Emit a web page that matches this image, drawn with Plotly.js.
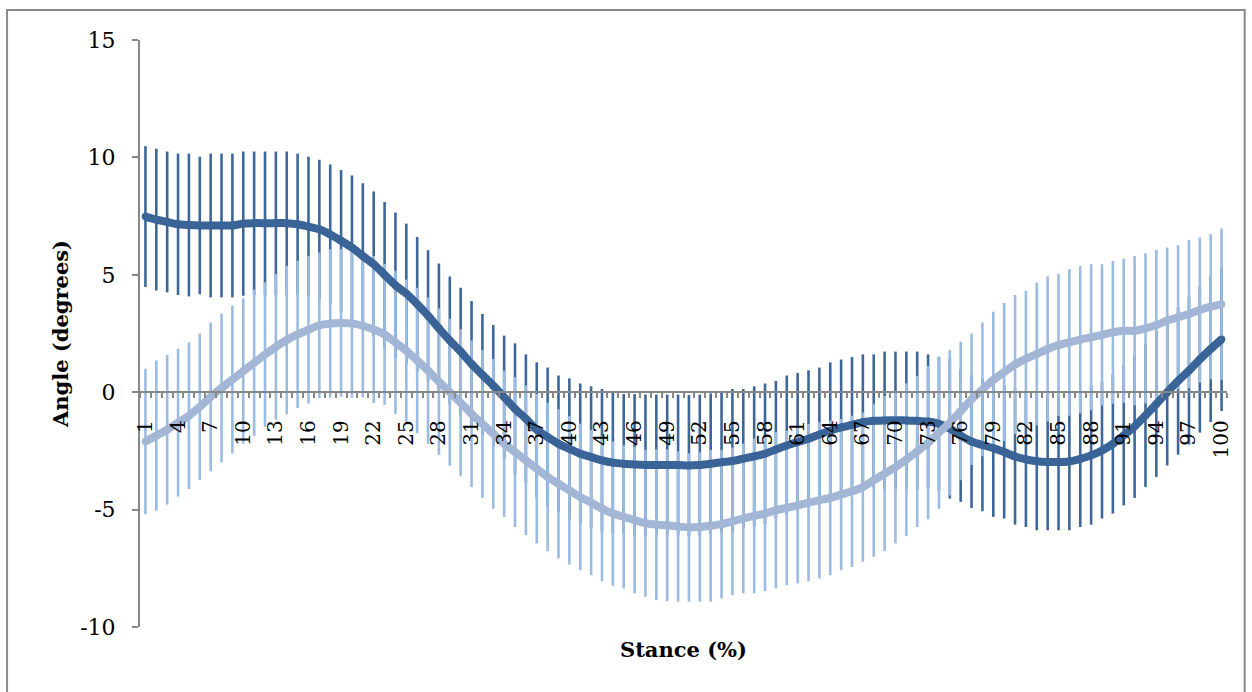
<!DOCTYPE html>
<html>
<head>
<meta charset="utf-8">
<script src="https://cdn.plot.ly/plotly-3.0.1.min.js"></script>
<style>html,body{margin:0;padding:0;background:#fff;}#chart{width:1252px;height:692px;}</style>
</head>
<body>
<div id="chart"></div>
<script>
// Stance percentage categories 1..100
var stance = [];
for (var i = 1; i <= 100; i++) stance.push(i);

var tickValues = [1,4,7,10,13,16,19,22,25,28,31,34,37,40,43,46,49,52,55,58,61,64,67,70,73,76,79,82,85,88,91,94,97,100];
var tickLabels = ["1","4","7","10","13","16","19","22","25","28","31","34","37","40","43","46","49","52","55","58","61","64","67","70","73","76","79","82","85","88","91","94","97","100"];
var yTickValues = [-10,-5,0,5,10,15];
var yTickLabels = ["-10","-5","0","5","10","15"];

// Dark series: mean angle and SD
var darkMean = [7.48,7.35,7.25,7.15,7.12,7.10,7.10,7.10,7.10,7.18,
 7.20,7.20,7.20,7.20,7.15,7.05,6.94,6.72,6.45,6.16,
 5.80,5.45,5.00,4.55,4.20,3.75,3.26,2.72,2.20,1.73,
 1.20,0.74,0.28,-0.21,-0.71,-1.13,-1.60,-1.91,-2.20,-2.41,
 -2.62,-2.76,-2.90,-3.00,-3.05,-3.08,-3.10,-3.10,-3.10,-3.10,
 -3.12,-3.10,-3.05,-2.98,-2.93,-2.83,-2.73,-2.62,-2.44,-2.27,
 -2.12,-1.98,-1.80,-1.64,-1.50,-1.39,-1.28,-1.22,-1.20,-1.20,
 -1.20,-1.22,-1.25,-1.35,-1.55,-1.85,-2.10,-2.25,-2.38,-2.55,
 -2.74,-2.86,-2.94,-2.97,-2.97,-2.95,-2.84,-2.69,-2.48,-2.20,
 -1.84,-1.46,-0.99,-0.50,0.00,0.48,0.92,1.40,1.84,2.25];
var darkSD = [3.00,3.02,3.00,3.01,3.04,2.93,3.06,3.06,3.06,3.07,
 3.05,3.05,3.05,3.05,3.01,2.98,2.96,2.98,3.01,3.07,
 3.10,3.10,3.10,3.10,2.98,2.86,2.79,2.76,2.73,2.72,
 2.68,2.59,2.58,2.62,2.79,2.74,2.87,2.96,2.91,3.00,
 2.99,3.01,3.04,3.00,2.97,3.00,3.00,3.00,3.00,3.00,
 3.00,3.00,3.00,3.00,3.07,2.97,2.98,2.99,2.92,2.98,
 2.94,2.91,2.85,2.91,2.89,2.89,2.89,2.83,2.93,2.93,
 2.93,2.95,2.86,2.85,2.98,2.82,2.83,2.82,2.93,2.83,
 2.90,2.88,2.94,2.91,2.91,2.93,2.90,2.95,2.90,2.97,
 2.98,3.04,3.05,3.11,3.12,3.14,3.15,3.12,3.11,3.05];

// Light series: mean angle and SD
var lightMean = [-2.10,-1.85,-1.60,-1.30,-1.00,-0.62,-0.20,0.18,0.54,0.90,
 1.25,1.60,1.93,2.22,2.46,2.66,2.85,2.93,2.95,2.93,
 2.83,2.67,2.46,2.12,1.77,1.35,0.92,0.45,0.00,-0.45,
 -0.92,-1.35,-1.77,-2.20,-2.55,-2.90,-3.26,-3.61,-3.90,-4.18,
 -4.46,-4.70,-4.96,-5.17,-5.31,-5.45,-5.58,-5.64,-5.67,-5.72,
 -5.76,-5.74,-5.69,-5.62,-5.50,-5.38,-5.27,-5.17,-5.03,-4.93,
 -4.82,-4.70,-4.60,-4.50,-4.36,-4.22,-4.04,-3.75,-3.47,-3.19,
 -2.87,-2.52,-2.15,-1.72,-1.30,-0.80,-0.30,0.12,0.52,0.86,
 1.18,1.42,1.63,1.84,2.01,2.12,2.24,2.34,2.44,2.55,
 2.62,2.62,2.72,2.86,3.05,3.19,3.33,3.50,3.64,3.75];
var lightSD = [3.10,3.20,3.19,3.15,3.12,3.12,3.17,3.17,3.15,3.10,
 3.12,3.08,3.10,3.16,3.14,3.14,3.10,3.16,3.14,3.16,
 3.05,3.13,3.00,3.05,3.03,3.10,3.12,3.12,3.13,3.13,
 3.12,3.15,3.19,3.11,3.19,3.19,3.18,3.16,3.18,3.16,
 3.12,3.09,3.09,3.07,3.05,3.12,3.13,3.21,3.23,3.20,
 3.16,3.18,3.23,3.16,3.14,3.19,3.30,3.30,3.33,3.29,
 3.32,3.35,3.33,3.29,3.22,3.22,3.18,3.26,3.30,3.25,
 3.25,3.22,3.26,3.24,3.10,2.95,2.80,2.85,2.91,2.94,
 2.96,2.90,3.04,3.09,3.02,3.12,3.14,3.11,3.01,3.04,
 3.07,3.18,3.20,3.20,3.11,3.07,3.16,3.09,3.09,3.22];

var DARK = '#3a6497', DARK_ERR = '#3d6799';
var LIGHT = '#a3b6d6', LIGHT_ERR = '#9bbce2';
var AXIS = '#878787';
var SERIF = 'DejaVu Serif, Liberation Serif, serif';

var traces = [
  { type:'scatter', mode:'lines', x:stance, y:darkMean, xaxis:'x', yaxis:'y',
    line:{width:0, color:'rgba(0,0,0,0)'}, showlegend:false, hoverinfo:'skip',
    error_y:{type:'data', array:darkSD, visible:true, color:DARK_ERR, thickness:2.6, width:0} },
  { type:'scatter', mode:'lines', x:stance, y:lightMean, xaxis:'x', yaxis:'y',
    line:{width:0, color:'rgba(0,0,0,0)'}, showlegend:false, hoverinfo:'skip',
    error_y:{type:'data', array:lightSD, visible:true, color:LIGHT_ERR, thickness:2.6, width:0} },
  { type:'scatter', mode:'lines+markers', x:stance, y:darkMean, xaxis:'x', yaxis:'y',
    line:{width:8, color:DARK, shape:'spline', smoothing:0.6},
    marker:{size:7.5, color:DARK}, showlegend:false },
  { type:'scatter', mode:'lines+markers', x:stance, y:lightMean, xaxis:'x', yaxis:'y',
    line:{width:8, color:LIGHT, shape:'spline', smoothing:0.6},
    marker:{size:7.5, color:LIGHT}, showlegend:false },
  { type:'scatter', mode:'markers', x:[null], y:[null], xaxis:'x2', yaxis:'y',
    showlegend:false, hoverinfo:'skip' }
];

var layout = {
  width:1252, height:692,
  margin:{l:140, r:25, t:40, b:65},
  paper_bgcolor:'#ffffff', plot_bgcolor:'#ffffff',
  showlegend:false,
  font:{family:SERIF, color:'#000'},
  xaxis:{
    range:[0.5,100.5], anchor:'free', position:0.4,
    showline:true, linecolor:AXIS, linewidth:2,
    showgrid:false, zeroline:false,
    tickmode:'array', tickvals:tickValues, ticktext:tickLabels,
    ticks:'outside', ticklen:5, tickcolor:'rgba(0,0,0,0)', tickwidth:1,
    tickangle:-90, ticklabelstandoff:14,
    tickfont:{family:SERIF, size:20, color:'#000'},
    minor:{ticks:'outside', tick0:0.5, dtick:1, ticklen:5, tickwidth:2, tickcolor:AXIS, showgrid:false}
  },
  xaxis2:{
    range:[0.5,100.5], overlaying:'x', anchor:'y', side:'bottom',
    showline:false, showgrid:false, zeroline:false, showticklabels:false, ticks:'',
    title:{text:'Stance (%)', standoff:15, font:{family:SERIF, size:21, weight:'bold', color:'#000'}}
  },
  yaxis:{
    range:[-10,15], tickmode:'array', tickvals:yTickValues, ticktext:yTickLabels,
    showline:true, linecolor:AXIS, linewidth:2,
    ticks:'outside', ticklen:6, tickwidth:2, tickcolor:AXIS,
    showgrid:false, zeroline:false, ticklabelstandoff:12,
    tickfont:{family:SERIF, size:22, color:'#000'},
    title:{text:'Angle (degrees)', standoff:6, font:{family:SERIF, size:21, weight:'bold', color:'#000'}}
  },
  shapes:[
    {type:'rect', xref:'paper', yref:'paper', x0:-0.1223, x1:1.0163, y0:-0.115, y1:1.0511,
     line:{color:'#8a8a8a', width:2}, fillcolor:'rgba(0,0,0,0)', layer:'below'}
  ]
};

Plotly.newPlot('chart', traces, layout, {displayModeBar:false, staticPlot:true});
</script>
</body>
</html>
